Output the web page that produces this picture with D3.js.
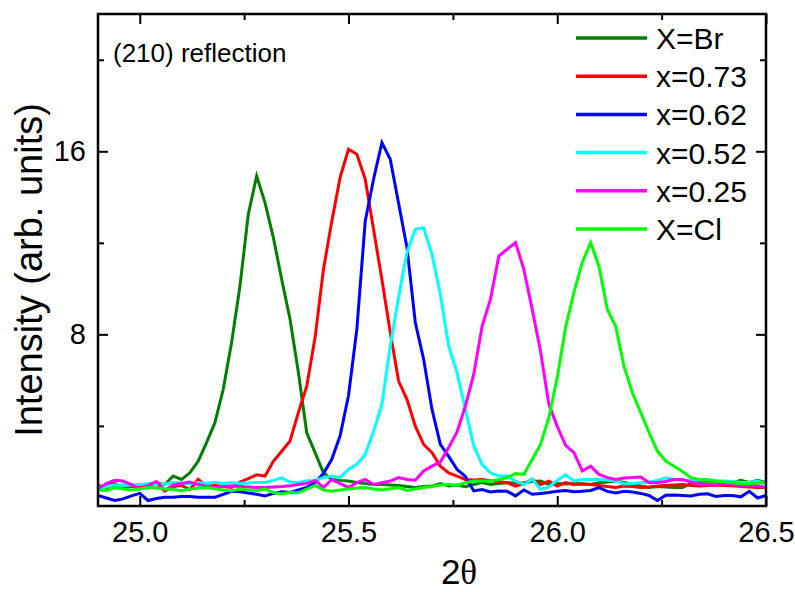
<!DOCTYPE html>
<html>
<head>
<meta charset="utf-8">
<script src="https://cdn.jsdelivr.net/npm/d3@7"></script>
<style>
  html, body { margin: 0; padding: 0; background: #fff; }
  #chart svg { display: block; font-family: "Liberation Sans", Arial, sans-serif; }
</style>
</head>
<body>
<div id="chart"></div>
<script>
// (210) reflection – XRD scans, 2θ from 24.90 to 26.50 in 0.02 steps

const TWO_THETA = d3.range(81).map(i => +(24.90 + 0.02 * i).toFixed(2));

const I_BR = [
  1.40,1.30,1.38,1.42,1.35,1.40,1.45,1.50,
  1.44,1.81,1.66,1.95,2.46,3.27,4.14,5.60,7.64,10.11,13.25,14.92,
  13.76,12.23,10.40,8.66,6.33,3.70,2.83,1.95,
  1.66,1.62,1.59,1.53,1.48,1.44,1.44,1.42,1.40,1.35,1.31,1.35,1.37,1.48,1.38,1.42,1.34,1.44,1.52,
  1.44,1.48,1.52,1.51,1.52,1.57,1.59,1.44,1.48,1.46,1.48,1.47,1.44,1.52,1.55,1.59,1.53,
  1.44,1.37,1.31,1.35,1.33,1.31,1.31,1.48,1.57,1.59,1.57,1.57,1.52,1.62,1.53,1.62,1.52
];
const I_073 = [
  1.33,1.40,1.49,1.29,1.37,1.31,1.33,1.48,1.15,1.35,
  1.40,1.22,1.66,1.37,1.40,1.35,1.31,1.55,1.70,1.86,
  1.81,2.45,2.89,3.34,4.59,5.74,7.87,10.84,12.94,14.86,
  16.09,15.87,14.78,12.59,10.40,8.09,5.96,5.16,3.99,3.19,
  2.83,2.24,1.95,1.81,1.66,1.64,1.66,1.60,1.57,1.52,
  1.37,1.48,1.66,1.44,1.59,1.37,1.52,1.44,1.46,1.44,
  1.40,1.35,1.31,1.37,1.35,1.31,1.33,1.37,1.40,1.42,
  1.44,1.40,1.37,1.40,1.42,1.40,1.38,1.35,1.33,1.31,
  1.31
];
const I_062 = [
  0.96,0.85,0.74,0.81,0.94,1.05,0.74,0.83,0.88,0.88,
  0.92,0.92,0.88,0.88,0.88,1.01,1.14,1.12,1.07,1.01,
  0.94,1.05,1.12,1.09,1.20,1.31,1.53,1.92,2.54,3.58,
  5.33,8.22,12.94,14.78,16.38,15.65,13.73,11.80,8.52,6.91,
  4.72,3.19,2.67,2.10,1.79,1.16,1.22,1.11,1.16,1.14,
  0.94,1.20,1.01,1.05,1.09,1.14,1.18,1.12,1.14,1.18,
  1.30,1.14,1.07,1.14,1.11,1.05,0.96,0.74,0.97,0.98,
  0.96,0.94,1.01,1.03,0.92,0.96,0.96,0.90,1.14,0.85,
  0.96
];
const I_052 = [
  1.22,1.35,1.42,1.40,1.42,1.44,1.47,1.44,1.46,1.53,
  1.50,1.48,1.53,1.48,1.54,1.48,1.52,1.48,1.50,1.53,
  1.53,1.62,1.73,1.55,1.53,1.59,1.62,1.74,1.81,1.75,
  2.10,2.32,2.75,3.76,4.94,7.48,9.62,11.58,12.59,12.66,
  11.50,9.75,7.49,6.33,4.72,3.12,2.32,1.95,1.81,1.81,
  1.59,1.44,1.68,1.22,1.33,1.62,1.86,1.59,1.66,1.66,
  1.66,1.64,1.59,1.46,1.48,1.52,1.55,1.62,1.73,1.66,
  1.62,1.62,1.64,1.66,1.59,1.59,1.56,1.53,1.53,1.59,
  1.48
];
const I_025 = [
  1.26,1.48,1.62,1.59,1.44,1.24,1.40,1.57,1.20,1.42,
  1.48,1.55,1.44,1.35,1.31,1.35,1.37,1.35,1.33,1.31,
  1.31,1.33,1.35,1.38,1.44,1.48,1.62,1.31,1.66,1.48,
  1.31,1.52,1.66,1.44,1.52,1.59,1.74,1.66,1.63,2.03,
  2.24,2.42,3.06,3.74,4.87,6.25,8.36,9.53,11.42,11.72,
  12.01,10.84,9.09,7.26,4.94,3.98,3.15,2.83,2.03,2.24,
  1.88,1.74,1.66,1.72,1.75,1.77,1.52,1.53,1.57,1.66,
  1.66,1.55,1.46,1.44,1.42,1.48,1.44,1.38,1.40,1.38,
  1.31
];
const I_CL = [
  1.20,1.18,1.31,1.24,1.20,1.24,1.31,1.29,1.24,1.22,
  1.17,1.24,1.29,1.31,1.25,1.20,1.16,1.24,1.20,1.17,
  1.24,1.09,1.03,1.09,1.08,1.24,1.40,1.20,1.14,1.20,
  1.24,1.29,1.31,1.24,1.20,1.25,1.31,1.18,1.24,1.31,
  1.35,1.42,1.44,1.40,1.52,1.59,1.59,1.59,1.66,1.74,
  1.92,1.88,2.53,3.19,4.37,6.12,8.31,9.84,11.15,12.01,
  10.97,9.09,8.35,6.60,5.45,4.58,3.70,2.90,2.46,2.24,
  2.01,1.74,1.66,1.64,1.59,1.55,1.52,1.48,1.47,1.50,
  1.52
];

const SERIES_LABELS = ["X=Br", "x=0.73", "x=0.62", "x=0.52", "x=0.25", "X=Cl"];
const SERIES_COLORS = ["#008000", "#ff0000", "#0000ff", "#00ffff", "#ff00ff", "#00ff00"];
const SERIES_VALUES = [I_BR, I_073, I_062, I_052, I_025, I_CL];

const X_MAJOR = [25.0, 25.5, 26.0, 26.5];
const X_MINOR = [25.25, 25.75, 26.25];
const Y_MAJOR = [8, 16];
const Y_MINOR = [4, 12, 20];

const W = 795, H = 592;
const margin = {top: 14, right: 29, bottom: 86, left: 98};
const FONT = '"Liberation Sans", Arial, sans-serif';

const svg = d3.select("#chart").append("svg")
  .attr("width", W).attr("height", H);

const x = d3.scaleLinear().domain([24.9, 26.5]).range([margin.left, W - margin.right]);
const y = d3.scaleLinear().domain([0.5, 22]).range([H - margin.bottom, margin.top]);

// clip
svg.append("clipPath").attr("id", "plotclip")
  .append("rect")
  .attr("x", margin.left).attr("y", margin.top)
  .attr("width", W - margin.left - margin.right)
  .attr("height", H - margin.top - margin.bottom);

// curves
const line = d3.line().x((d, i) => x(TWO_THETA[i])).y(d => y(d));
svg.append("g").attr("clip-path", "url(#plotclip)")
  .selectAll("path")
  .data(SERIES_VALUES)
  .join("path")
    .attr("d", d => line(d))
    .attr("fill", "none")
    .attr("stroke", (d, i) => SERIES_COLORS[i])
    .attr("stroke-width", 3)
    .attr("stroke-linejoin", "miter");

// axes (ticks pointing in, mirrored on top/right)
function styleAxis(g){
  g.select(".domain").remove();
  g.selectAll(".tick line").attr("stroke", "#000").attr("stroke-width", 2);
  g.selectAll("text").attr("font-family", FONT).attr("font-size", 29).attr("fill", "#000");
}
const yB = H - margin.bottom, yT = margin.top, xL = margin.left, xR = W - margin.right;

svg.append("g").attr("transform", `translate(0,${yB})`)
  .call(d3.axisBottom(x).tickValues(X_MAJOR).tickSize(-10).tickPadding(15).tickFormat(d3.format(".1f")))
  .call(styleAxis);
svg.append("g").attr("transform", `translate(0,${yB})`)
  .call(d3.axisBottom(x).tickValues(X_MINOR).tickSize(-6).tickFormat(""))
  .call(styleAxis);
svg.append("g").attr("transform", `translate(0,${yT})`)
  .call(d3.axisTop(x).tickValues(X_MAJOR).tickSize(-10).tickFormat(""))
  .call(styleAxis);
svg.append("g").attr("transform", `translate(0,${yT})`)
  .call(d3.axisTop(x).tickValues(X_MINOR).tickSize(-6).tickFormat(""))
  .call(styleAxis);

svg.append("g").attr("transform", `translate(${xL},0)`)
  .call(d3.axisLeft(y).tickValues(Y_MAJOR).tickSize(-10).tickPadding(12).tickFormat(d3.format("d")))
  .call(styleAxis);
svg.append("g").attr("transform", `translate(${xL},0)`)
  .call(d3.axisLeft(y).tickValues(Y_MINOR).tickSize(-6).tickFormat(""))
  .call(styleAxis);
svg.append("g").attr("transform", `translate(${xR},0)`)
  .call(d3.axisRight(y).tickValues(Y_MAJOR).tickSize(-10).tickFormat(""))
  .call(styleAxis);
svg.append("g").attr("transform", `translate(${xR},0)`)
  .call(d3.axisRight(y).tickValues(Y_MINOR).tickSize(-6).tickFormat(""))
  .call(styleAxis);

// frame
svg.append("rect")
  .attr("x", xL).attr("y", yT)
  .attr("width", xR - xL).attr("height", yB - yT)
  .attr("fill", "none").attr("stroke", "#000").attr("stroke-width", 2.5);

// annotation
svg.append("text")
  .attr("x", 113).attr("y", 62)
  .attr("font-family", FONT).attr("font-size", 26)
  .text("(210) reflection");

// legend
const legend = svg.append("g");
const rowY = d3.scaleLinear().domain([0, 5]).range([38, 229]);
SERIES_LABELS.forEach((lab, i) => {
  const gy = rowY(i);
  legend.append("line")
    .attr("x1", 576).attr("x2", 647).attr("y1", gy).attr("y2", gy)
    .attr("stroke", SERIES_COLORS[i]).attr("stroke-width", 3.5);
  legend.append("text")
    .attr("x", 656).attr("y", gy + 11)
    .attr("font-family", FONT).attr("font-size", 30)
    .text(lab);
});

// axis titles
svg.append("text")
  .attr("transform", "translate(42,270) rotate(-90)")
  .attr("text-anchor", "middle")
  .attr("font-family", FONT).attr("font-size", 38)
  .text("Intensity (arb. units)");

const xt = svg.append("text")
  .attr("x", 459).attr("y", 584)
  .attr("text-anchor", "middle")
  .attr("font-family", FONT).attr("font-size", 35);
xt.append("tspan").text("2");
xt.append("tspan").attr("font-family", '"Liberation Serif", "Times New Roman", serif').text("θ");
</script>
</body>
</html>
